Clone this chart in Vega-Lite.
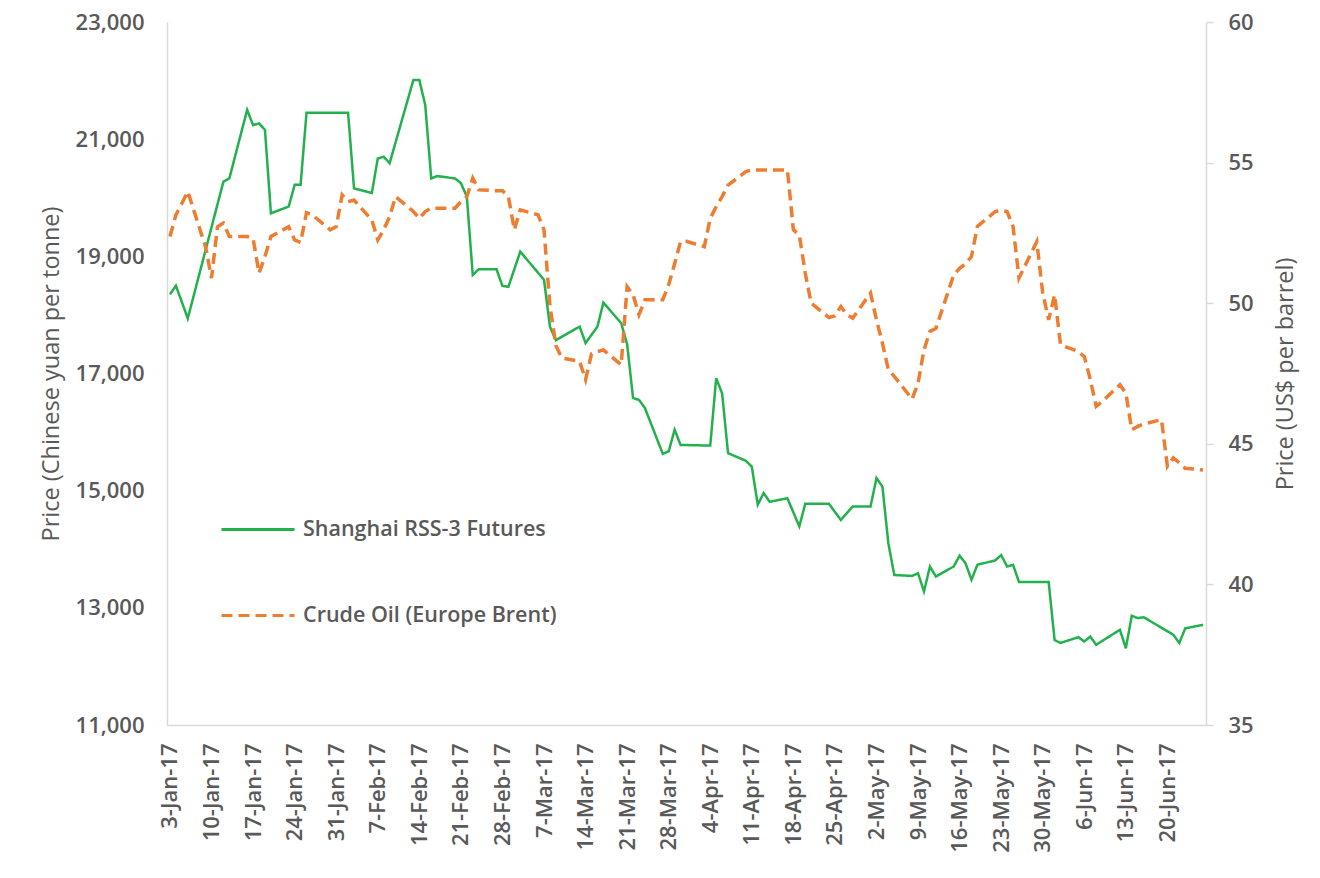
{
"$schema":"https://vega.github.io/schema/vega-lite/v6.json",
"width":1039,"height":703,
"autosize":{"type":"none"},
"padding":{"left":167,"top":22,"right":114,"bottom":153},
"background":"white",
"config":{"view":{"stroke":null},"font":"Open Sans",
 "legend":{"orient":"none","legendX":53,"legendY":469.5,"padding":0,"symbolType":"stroke","symbolSize":5329,"symbolStrokeWidth":3,"labelFont":"Open Sans","labelFontSize":21.5,"labelFontWeight":600,"labelColor":"#595959","labelOffset":7,"rowPadding":37,"direction":"vertical","labelLimit":400}},
"datasets":{
"rss":[
{"date":"2017-01-03T12:00:00","series":"Shanghai RSS-3 Futures","price":18350},
{"date":"2017-01-04T12:00:00","series":"Shanghai RSS-3 Futures","price":18500},
{"date":"2017-01-06T12:00:00","series":"Shanghai RSS-3 Futures","price":17940},
{"date":"2017-01-12T12:00:00","series":"Shanghai RSS-3 Futures","price":20275},
{"date":"2017-01-13T12:00:00","series":"Shanghai RSS-3 Futures","price":20330},
{"date":"2017-01-16T12:00:00","series":"Shanghai RSS-3 Futures","price":21500},
{"date":"2017-01-17T12:00:00","series":"Shanghai RSS-3 Futures","price":21240},
{"date":"2017-01-18T12:00:00","series":"Shanghai RSS-3 Futures","price":21270},
{"date":"2017-01-19T12:00:00","series":"Shanghai RSS-3 Futures","price":21160},
{"date":"2017-01-20T12:00:00","series":"Shanghai RSS-3 Futures","price":19735},
{"date":"2017-01-23T12:00:00","series":"Shanghai RSS-3 Futures","price":19850},
{"date":"2017-01-24T12:00:00","series":"Shanghai RSS-3 Futures","price":20220},
{"date":"2017-01-25T12:00:00","series":"Shanghai RSS-3 Futures","price":20220},
{"date":"2017-01-26T12:00:00","series":"Shanghai RSS-3 Futures","price":21450},
{"date":"2017-02-02T12:00:00","series":"Shanghai RSS-3 Futures","price":21450},
{"date":"2017-02-03T12:00:00","series":"Shanghai RSS-3 Futures","price":20160},
{"date":"2017-02-06T12:00:00","series":"Shanghai RSS-3 Futures","price":20080},
{"date":"2017-02-07T12:00:00","series":"Shanghai RSS-3 Futures","price":20670},
{"date":"2017-02-08T12:00:00","series":"Shanghai RSS-3 Futures","price":20700},
{"date":"2017-02-09T12:00:00","series":"Shanghai RSS-3 Futures","price":20590},
{"date":"2017-02-13T12:00:00","series":"Shanghai RSS-3 Futures","price":22010},
{"date":"2017-02-14T12:00:00","series":"Shanghai RSS-3 Futures","price":22010},
{"date":"2017-02-15T12:00:00","series":"Shanghai RSS-3 Futures","price":21580},
{"date":"2017-02-16T12:00:00","series":"Shanghai RSS-3 Futures","price":20330},
{"date":"2017-02-17T12:00:00","series":"Shanghai RSS-3 Futures","price":20370},
{"date":"2017-02-20T12:00:00","series":"Shanghai RSS-3 Futures","price":20330},
{"date":"2017-02-21T12:00:00","series":"Shanghai RSS-3 Futures","price":20250},
{"date":"2017-02-22T12:00:00","series":"Shanghai RSS-3 Futures","price":20020},
{"date":"2017-02-23T12:00:00","series":"Shanghai RSS-3 Futures","price":18680},
{"date":"2017-02-24T12:00:00","series":"Shanghai RSS-3 Futures","price":18780},
{"date":"2017-02-27T12:00:00","series":"Shanghai RSS-3 Futures","price":18780},
{"date":"2017-02-28T12:00:00","series":"Shanghai RSS-3 Futures","price":18495},
{"date":"2017-03-01T12:00:00","series":"Shanghai RSS-3 Futures","price":18480},
{"date":"2017-03-03T12:00:00","series":"Shanghai RSS-3 Futures","price":19080},
{"date":"2017-03-07T12:00:00","series":"Shanghai RSS-3 Futures","price":18600},
{"date":"2017-03-08T12:00:00","series":"Shanghai RSS-3 Futures","price":17800},
{"date":"2017-03-09T12:00:00","series":"Shanghai RSS-3 Futures","price":17570},
{"date":"2017-03-13T12:00:00","series":"Shanghai RSS-3 Futures","price":17800},
{"date":"2017-03-14T12:00:00","series":"Shanghai RSS-3 Futures","price":17520},
{"date":"2017-03-16T12:00:00","series":"Shanghai RSS-3 Futures","price":17800},
{"date":"2017-03-17T12:00:00","series":"Shanghai RSS-3 Futures","price":18210},
{"date":"2017-03-20T12:00:00","series":"Shanghai RSS-3 Futures","price":17860},
{"date":"2017-03-21T12:00:00","series":"Shanghai RSS-3 Futures","price":17500},
{"date":"2017-03-22T12:00:00","series":"Shanghai RSS-3 Futures","price":16580},
{"date":"2017-03-23T12:00:00","series":"Shanghai RSS-3 Futures","price":16550},
{"date":"2017-03-24T12:00:00","series":"Shanghai RSS-3 Futures","price":16410},
{"date":"2017-03-27T12:00:00","series":"Shanghai RSS-3 Futures","price":15630},
{"date":"2017-03-28T12:00:00","series":"Shanghai RSS-3 Futures","price":15670},
{"date":"2017-03-29T12:00:00","series":"Shanghai RSS-3 Futures","price":16040},
{"date":"2017-03-30T12:00:00","series":"Shanghai RSS-3 Futures","price":15780},
{"date":"2017-04-04T12:00:00","series":"Shanghai RSS-3 Futures","price":15770},
{"date":"2017-04-05T12:00:00","series":"Shanghai RSS-3 Futures","price":16920},
{"date":"2017-04-06T12:00:00","series":"Shanghai RSS-3 Futures","price":16660},
{"date":"2017-04-07T12:00:00","series":"Shanghai RSS-3 Futures","price":15640},
{"date":"2017-04-10T12:00:00","series":"Shanghai RSS-3 Futures","price":15510},
{"date":"2017-04-11T12:00:00","series":"Shanghai RSS-3 Futures","price":15410},
{"date":"2017-04-12T12:00:00","series":"Shanghai RSS-3 Futures","price":14760},
{"date":"2017-04-13T12:00:00","series":"Shanghai RSS-3 Futures","price":14960},
{"date":"2017-04-14T12:00:00","series":"Shanghai RSS-3 Futures","price":14810},
{"date":"2017-04-17T12:00:00","series":"Shanghai RSS-3 Futures","price":14870},
{"date":"2017-04-19T12:00:00","series":"Shanghai RSS-3 Futures","price":14390},
{"date":"2017-04-20T12:00:00","series":"Shanghai RSS-3 Futures","price":14775},
{"date":"2017-04-24T12:00:00","series":"Shanghai RSS-3 Futures","price":14775},
{"date":"2017-04-26T12:00:00","series":"Shanghai RSS-3 Futures","price":14500},
{"date":"2017-04-28T12:00:00","series":"Shanghai RSS-3 Futures","price":14730},
{"date":"2017-05-01T12:00:00","series":"Shanghai RSS-3 Futures","price":14730},
{"date":"2017-05-02T12:00:00","series":"Shanghai RSS-3 Futures","price":15215},
{"date":"2017-05-03T12:00:00","series":"Shanghai RSS-3 Futures","price":15070},
{"date":"2017-05-04T12:00:00","series":"Shanghai RSS-3 Futures","price":14100},
{"date":"2017-05-05T12:00:00","series":"Shanghai RSS-3 Futures","price":13560},
{"date":"2017-05-08T12:00:00","series":"Shanghai RSS-3 Futures","price":13545},
{"date":"2017-05-09T12:00:00","series":"Shanghai RSS-3 Futures","price":13590},
{"date":"2017-05-10T12:00:00","series":"Shanghai RSS-3 Futures","price":13280},
{"date":"2017-05-11T12:00:00","series":"Shanghai RSS-3 Futures","price":13705},
{"date":"2017-05-12T12:00:00","series":"Shanghai RSS-3 Futures","price":13535},
{"date":"2017-05-15T12:00:00","series":"Shanghai RSS-3 Futures","price":13705},
{"date":"2017-05-16T12:00:00","series":"Shanghai RSS-3 Futures","price":13890},
{"date":"2017-05-17T12:00:00","series":"Shanghai RSS-3 Futures","price":13760},
{"date":"2017-05-18T12:00:00","series":"Shanghai RSS-3 Futures","price":13480},
{"date":"2017-05-19T12:00:00","series":"Shanghai RSS-3 Futures","price":13735},
{"date":"2017-05-22T12:00:00","series":"Shanghai RSS-3 Futures","price":13810},
{"date":"2017-05-23T12:00:00","series":"Shanghai RSS-3 Futures","price":13900},
{"date":"2017-05-24T12:00:00","series":"Shanghai RSS-3 Futures","price":13705},
{"date":"2017-05-25T12:00:00","series":"Shanghai RSS-3 Futures","price":13735},
{"date":"2017-05-26T12:00:00","series":"Shanghai RSS-3 Futures","price":13440},
{"date":"2017-05-31T12:00:00","series":"Shanghai RSS-3 Futures","price":13440},
{"date":"2017-06-01T12:00:00","series":"Shanghai RSS-3 Futures","price":12450},
{"date":"2017-06-02T12:00:00","series":"Shanghai RSS-3 Futures","price":12400},
{"date":"2017-06-05T12:00:00","series":"Shanghai RSS-3 Futures","price":12500},
{"date":"2017-06-06T12:00:00","series":"Shanghai RSS-3 Futures","price":12425},
{"date":"2017-06-07T12:00:00","series":"Shanghai RSS-3 Futures","price":12510},
{"date":"2017-06-08T12:00:00","series":"Shanghai RSS-3 Futures","price":12370},
{"date":"2017-06-12T12:00:00","series":"Shanghai RSS-3 Futures","price":12625},
{"date":"2017-06-13T12:00:00","series":"Shanghai RSS-3 Futures","price":12310},
{"date":"2017-06-14T12:00:00","series":"Shanghai RSS-3 Futures","price":12865},
{"date":"2017-06-15T12:00:00","series":"Shanghai RSS-3 Futures","price":12825},
{"date":"2017-06-16T12:00:00","series":"Shanghai RSS-3 Futures","price":12840},
{"date":"2017-06-21T12:00:00","series":"Shanghai RSS-3 Futures","price":12540},
{"date":"2017-06-22T12:00:00","series":"Shanghai RSS-3 Futures","price":12400},
{"date":"2017-06-23T12:00:00","series":"Shanghai RSS-3 Futures","price":12650},
{"date":"2017-06-26T12:00:00","series":"Shanghai RSS-3 Futures","price":12710}
],
"brent":[
{"date":"2017-01-03T12:00:00","series":"Crude Oil (Europe Brent)","price":52.37},
{"date":"2017-01-04T12:00:00","series":"Crude Oil (Europe Brent)","price":53.14},
{"date":"2017-01-05T12:00:00","series":"Crude Oil (Europe Brent)","price":53.55},
{"date":"2017-01-06T12:00:00","series":"Crude Oil (Europe Brent)","price":53.97},
{"date":"2017-01-09T12:00:00","series":"Crude Oil (Europe Brent)","price":52.0},
{"date":"2017-01-10T12:00:00","series":"Crude Oil (Europe Brent)","price":50.89},
{"date":"2017-01-11T12:00:00","series":"Crude Oil (Europe Brent)","price":52.72},
{"date":"2017-01-12T12:00:00","series":"Crude Oil (Europe Brent)","price":52.85},
{"date":"2017-01-13T12:00:00","series":"Crude Oil (Europe Brent)","price":52.37},
{"date":"2017-01-16T12:00:00","series":"Crude Oil (Europe Brent)","price":52.37},
{"date":"2017-01-17T12:00:00","series":"Crude Oil (Europe Brent)","price":52.3},
{"date":"2017-01-18T12:00:00","series":"Crude Oil (Europe Brent)","price":51.07},
{"date":"2017-01-19T12:00:00","series":"Crude Oil (Europe Brent)","price":51.66},
{"date":"2017-01-20T12:00:00","series":"Crude Oil (Europe Brent)","price":52.37},
{"date":"2017-01-23T12:00:00","series":"Crude Oil (Europe Brent)","price":52.72},
{"date":"2017-01-24T12:00:00","series":"Crude Oil (Europe Brent)","price":52.25},
{"date":"2017-01-25T12:00:00","series":"Crude Oil (Europe Brent)","price":52.16},
{"date":"2017-01-26T12:00:00","series":"Crude Oil (Europe Brent)","price":53.22},
{"date":"2017-01-27T12:00:00","series":"Crude Oil (Europe Brent)","price":53.14},
{"date":"2017-01-30T12:00:00","series":"Crude Oil (Europe Brent)","price":52.61},
{"date":"2017-01-31T12:00:00","series":"Crude Oil (Europe Brent)","price":52.72},
{"date":"2017-02-01T12:00:00","series":"Crude Oil (Europe Brent)","price":53.85},
{"date":"2017-02-02T12:00:00","series":"Crude Oil (Europe Brent)","price":53.61},
{"date":"2017-02-03T12:00:00","series":"Crude Oil (Europe Brent)","price":53.67},
{"date":"2017-02-06T12:00:00","series":"Crude Oil (Europe Brent)","price":52.96},
{"date":"2017-02-07T12:00:00","series":"Crude Oil (Europe Brent)","price":52.25},
{"date":"2017-02-08T12:00:00","series":"Crude Oil (Europe Brent)","price":52.61},
{"date":"2017-02-09T12:00:00","series":"Crude Oil (Europe Brent)","price":53.08},
{"date":"2017-02-10T12:00:00","series":"Crude Oil (Europe Brent)","price":53.79},
{"date":"2017-02-13T12:00:00","series":"Crude Oil (Europe Brent)","price":53.26},
{"date":"2017-02-14T12:00:00","series":"Crude Oil (Europe Brent)","price":53.02},
{"date":"2017-02-15T12:00:00","series":"Crude Oil (Europe Brent)","price":53.26},
{"date":"2017-02-16T12:00:00","series":"Crude Oil (Europe Brent)","price":53.38},
{"date":"2017-02-17T12:00:00","series":"Crude Oil (Europe Brent)","price":53.38},
{"date":"2017-02-20T12:00:00","series":"Crude Oil (Europe Brent)","price":53.38},
{"date":"2017-02-21T12:00:00","series":"Crude Oil (Europe Brent)","price":53.61},
{"date":"2017-02-22T12:00:00","series":"Crude Oil (Europe Brent)","price":53.79},
{"date":"2017-02-23T12:00:00","series":"Crude Oil (Europe Brent)","price":54.45},
{"date":"2017-02-24T12:00:00","series":"Crude Oil (Europe Brent)","price":54.03},
{"date":"2017-02-27T12:00:00","series":"Crude Oil (Europe Brent)","price":54.0},
{"date":"2017-02-28T12:00:00","series":"Crude Oil (Europe Brent)","price":54.0},
{"date":"2017-03-01T12:00:00","series":"Crude Oil (Europe Brent)","price":53.79},
{"date":"2017-03-02T12:00:00","series":"Crude Oil (Europe Brent)","price":52.61},
{"date":"2017-03-03T12:00:00","series":"Crude Oil (Europe Brent)","price":53.32},
{"date":"2017-03-06T12:00:00","series":"Crude Oil (Europe Brent)","price":53.14},
{"date":"2017-03-07T12:00:00","series":"Crude Oil (Europe Brent)","price":52.61},
{"date":"2017-03-08T12:00:00","series":"Crude Oil (Europe Brent)","price":49.9},
{"date":"2017-03-09T12:00:00","series":"Crude Oil (Europe Brent)","price":48.5},
{"date":"2017-03-10T12:00:00","series":"Crude Oil (Europe Brent)","price":48.05},
{"date":"2017-03-13T12:00:00","series":"Crude Oil (Europe Brent)","price":47.93},
{"date":"2017-03-14T12:00:00","series":"Crude Oil (Europe Brent)","price":47.28},
{"date":"2017-03-15T12:00:00","series":"Crude Oil (Europe Brent)","price":48.2},
{"date":"2017-03-16T12:00:00","series":"Crude Oil (Europe Brent)","price":48.28},
{"date":"2017-03-17T12:00:00","series":"Crude Oil (Europe Brent)","price":48.34},
{"date":"2017-03-20T12:00:00","series":"Crude Oil (Europe Brent)","price":47.81},
{"date":"2017-03-21T12:00:00","series":"Crude Oil (Europe Brent)","price":50.59},
{"date":"2017-03-22T12:00:00","series":"Crude Oil (Europe Brent)","price":50.3},
{"date":"2017-03-23T12:00:00","series":"Crude Oil (Europe Brent)","price":49.59},
{"date":"2017-03-24T12:00:00","series":"Crude Oil (Europe Brent)","price":50.12},
{"date":"2017-03-27T12:00:00","series":"Crude Oil (Europe Brent)","price":50.12},
{"date":"2017-03-28T12:00:00","series":"Crude Oil (Europe Brent)","price":50.66},
{"date":"2017-03-29T12:00:00","series":"Crude Oil (Europe Brent)","price":51.4},
{"date":"2017-03-30T12:00:00","series":"Crude Oil (Europe Brent)","price":52.19},
{"date":"2017-03-31T12:00:00","series":"Crude Oil (Europe Brent)","price":52.2},
{"date":"2017-04-03T12:00:00","series":"Crude Oil (Europe Brent)","price":52.01},
{"date":"2017-04-04T12:00:00","series":"Crude Oil (Europe Brent)","price":53.02},
{"date":"2017-04-05T12:00:00","series":"Crude Oil (Europe Brent)","price":53.43},
{"date":"2017-04-06T12:00:00","series":"Crude Oil (Europe Brent)","price":53.79},
{"date":"2017-04-07T12:00:00","series":"Crude Oil (Europe Brent)","price":54.2},
{"date":"2017-04-10T12:00:00","series":"Crude Oil (Europe Brent)","price":54.68},
{"date":"2017-04-11T12:00:00","series":"Crude Oil (Europe Brent)","price":54.74},
{"date":"2017-04-12T12:00:00","series":"Crude Oil (Europe Brent)","price":54.74},
{"date":"2017-04-13T12:00:00","series":"Crude Oil (Europe Brent)","price":54.74},
{"date":"2017-04-17T12:00:00","series":"Crude Oil (Europe Brent)","price":54.74},
{"date":"2017-04-18T12:00:00","series":"Crude Oil (Europe Brent)","price":52.61},
{"date":"2017-04-19T12:00:00","series":"Crude Oil (Europe Brent)","price":52.43},
{"date":"2017-04-20T12:00:00","series":"Crude Oil (Europe Brent)","price":51.07},
{"date":"2017-04-21T12:00:00","series":"Crude Oil (Europe Brent)","price":50.0},
{"date":"2017-04-24T12:00:00","series":"Crude Oil (Europe Brent)","price":49.49},
{"date":"2017-04-25T12:00:00","series":"Crude Oil (Europe Brent)","price":49.55},
{"date":"2017-04-26T12:00:00","series":"Crude Oil (Europe Brent)","price":49.88},
{"date":"2017-04-27T12:00:00","series":"Crude Oil (Europe Brent)","price":49.6},
{"date":"2017-04-28T12:00:00","series":"Crude Oil (Europe Brent)","price":49.47},
{"date":"2017-05-01T12:00:00","series":"Crude Oil (Europe Brent)","price":50.36},
{"date":"2017-05-02T12:00:00","series":"Crude Oil (Europe Brent)","price":49.41},
{"date":"2017-05-03T12:00:00","series":"Crude Oil (Europe Brent)","price":48.58},
{"date":"2017-05-04T12:00:00","series":"Crude Oil (Europe Brent)","price":47.63},
{"date":"2017-05-05T12:00:00","series":"Crude Oil (Europe Brent)","price":47.4},
{"date":"2017-05-08T12:00:00","series":"Crude Oil (Europe Brent)","price":46.59},
{"date":"2017-05-09T12:00:00","series":"Crude Oil (Europe Brent)","price":47.16},
{"date":"2017-05-10T12:00:00","series":"Crude Oil (Europe Brent)","price":48.34},
{"date":"2017-05-11T12:00:00","series":"Crude Oil (Europe Brent)","price":49.0},
{"date":"2017-05-12T12:00:00","series":"Crude Oil (Europe Brent)","price":49.1},
{"date":"2017-05-15T12:00:00","series":"Crude Oil (Europe Brent)","price":51.0},
{"date":"2017-05-16T12:00:00","series":"Crude Oil (Europe Brent)","price":51.24},
{"date":"2017-05-17T12:00:00","series":"Crude Oil (Europe Brent)","price":51.4},
{"date":"2017-05-18T12:00:00","series":"Crude Oil (Europe Brent)","price":51.66},
{"date":"2017-05-19T12:00:00","series":"Crude Oil (Europe Brent)","price":52.73},
{"date":"2017-05-22T12:00:00","series":"Crude Oil (Europe Brent)","price":53.26},
{"date":"2017-05-23T12:00:00","series":"Crude Oil (Europe Brent)","price":53.3},
{"date":"2017-05-24T12:00:00","series":"Crude Oil (Europe Brent)","price":53.26},
{"date":"2017-05-25T12:00:00","series":"Crude Oil (Europe Brent)","price":52.73},
{"date":"2017-05-26T12:00:00","series":"Crude Oil (Europe Brent)","price":50.89},
{"date":"2017-05-29T12:00:00","series":"Crude Oil (Europe Brent)","price":52.19},
{"date":"2017-05-30T12:00:00","series":"Crude Oil (Europe Brent)","price":50.36},
{"date":"2017-05-31T12:00:00","series":"Crude Oil (Europe Brent)","price":49.41},
{"date":"2017-06-01T12:00:00","series":"Crude Oil (Europe Brent)","price":50.3},
{"date":"2017-06-02T12:00:00","series":"Crude Oil (Europe Brent)","price":48.52},
{"date":"2017-06-05T12:00:00","series":"Crude Oil (Europe Brent)","price":48.28},
{"date":"2017-06-06T12:00:00","series":"Crude Oil (Europe Brent)","price":48.1},
{"date":"2017-06-07T12:00:00","series":"Crude Oil (Europe Brent)","price":47.3},
{"date":"2017-06-08T12:00:00","series":"Crude Oil (Europe Brent)","price":46.33},
{"date":"2017-06-09T12:00:00","series":"Crude Oil (Europe Brent)","price":46.5},
{"date":"2017-06-12T12:00:00","series":"Crude Oil (Europe Brent)","price":47.1},
{"date":"2017-06-13T12:00:00","series":"Crude Oil (Europe Brent)","price":46.8},
{"date":"2017-06-14T12:00:00","series":"Crude Oil (Europe Brent)","price":45.5},
{"date":"2017-06-15T12:00:00","series":"Crude Oil (Europe Brent)","price":45.62},
{"date":"2017-06-16T12:00:00","series":"Crude Oil (Europe Brent)","price":45.7},
{"date":"2017-06-19T12:00:00","series":"Crude Oil (Europe Brent)","price":45.86},
{"date":"2017-06-20T12:00:00","series":"Crude Oil (Europe Brent)","price":44.2},
{"date":"2017-06-21T12:00:00","series":"Crude Oil (Europe Brent)","price":44.5},
{"date":"2017-06-22T12:00:00","series":"Crude Oil (Europe Brent)","price":44.32},
{"date":"2017-06-23T12:00:00","series":"Crude Oil (Europe Brent)","price":44.13},
{"date":"2017-06-26T12:00:00","series":"Crude Oil (Europe Brent)","price":44.07}
]},
"encoding":{
 "x":{"field":"date","type":"temporal",
  "scale":{"domain":[{"year":2017,"month":1,"date":3},{"year":2017,"month":6,"date":27}]},
  "axis":{"title":null,"format":"%-d-%b-%y","labelAngle":270,"labelAlign":"right","labelBaseline":"middle","labelPadding":18,"ticks":false,"tickSize":0,"grid":false,"domainColor":"#D9D9D9","domainWidth":1.5,"labelFont":"Open Sans","labelFontSize":22,"labelFontWeight":600,"labelColor":"#595959","labelOverlap":false,"labelBound":false,"labelFlush":false,
   "values":[
    {"year":2017,"month":1,"date":3,"hours":12},{"year":2017,"month":1,"date":10,"hours":12},{"year":2017,"month":1,"date":17,"hours":12},{"year":2017,"month":1,"date":24,"hours":12},{"year":2017,"month":1,"date":31,"hours":12},
    {"year":2017,"month":2,"date":7,"hours":12},{"year":2017,"month":2,"date":14,"hours":12},{"year":2017,"month":2,"date":21,"hours":12},{"year":2017,"month":2,"date":28,"hours":12},
    {"year":2017,"month":3,"date":7,"hours":12},{"year":2017,"month":3,"date":14,"hours":12},{"year":2017,"month":3,"date":21,"hours":12},{"year":2017,"month":3,"date":28,"hours":12},
    {"year":2017,"month":4,"date":4,"hours":12},{"year":2017,"month":4,"date":11,"hours":12},{"year":2017,"month":4,"date":18,"hours":12},{"year":2017,"month":4,"date":25,"hours":12},
    {"year":2017,"month":5,"date":2,"hours":12},{"year":2017,"month":5,"date":9,"hours":12},{"year":2017,"month":5,"date":16,"hours":12},{"year":2017,"month":5,"date":23,"hours":12},{"year":2017,"month":5,"date":30,"hours":12},
    {"year":2017,"month":6,"date":6,"hours":12},{"year":2017,"month":6,"date":13,"hours":12},{"year":2017,"month":6,"date":20,"hours":12}]}}
},
"layer":[
 {"data":{"name":"rss"},
  "mark":{"type":"line","strokeWidth":2.5,"interpolate":"linear"},
  "encoding":{
   "y":{"field":"price","type":"quantitative","scale":{"domain":[11000,23000],"nice":false,"zero":false},
    "axis":{"orient":"left","values":[11000,13000,15000,17000,19000,21000,23000],"format":",.0f","ticks":false,"tickSize":0,"labelPadding":23,"grid":false,"domainColor":"#D9D9D9","domainWidth":1.5,"labelFont":"Open Sans","labelFontSize":22,"labelFontWeight":600,"labelColor":"#595959","title":"Price (Chinese yuan per tonne)","titleFont":"Open Sans","titleFontSize":23.5,"titleFontWeight":"normal","titleColor":"#595959","titlePadding":12}},
   "color":{"field":"series","type":"nominal","title":null,"scale":{"domain":["Shanghai RSS-3 Futures","Crude Oil (Europe Brent)"],"range":["#22B14C","#ED7D31"]}},
   "strokeDash":{"field":"series","type":"nominal","title":null,"scale":{"domain":["Shanghai RSS-3 Futures","Crude Oil (Europe Brent)"],"range":[[1,0],[11,6]]}}
  }},
 {"data":{"name":"brent"},
  "mark":{"type":"line","strokeWidth":3.5,"interpolate":"linear"},
  "encoding":{
   "y":{"field":"price","type":"quantitative","scale":{"domain":[35,60],"nice":false,"zero":false},
    "axis":{"orient":"right","values":[35,40,45,50,55,60],"format":"d","ticks":true,"tickSize":7,"tickColor":"#D9D9D9","tickWidth":1.5,"labelPadding":15,"grid":false,"domainColor":"#D9D9D9","domainWidth":1.5,"labelFont":"Open Sans","labelFontSize":22,"labelFontWeight":600,"labelColor":"#595959","title":"Price (US$ per barrel)","titleAngle":270,"titleFont":"Open Sans","titleFontSize":23.5,"titleFontWeight":"normal","titleColor":"#595959","titlePadding":44}},
   "color":{"field":"series","type":"nominal","title":null},
   "strokeDash":{"field":"series","type":"nominal","title":null}
  }}
],
"resolve":{"scale":{"y":"independent"}}
}
